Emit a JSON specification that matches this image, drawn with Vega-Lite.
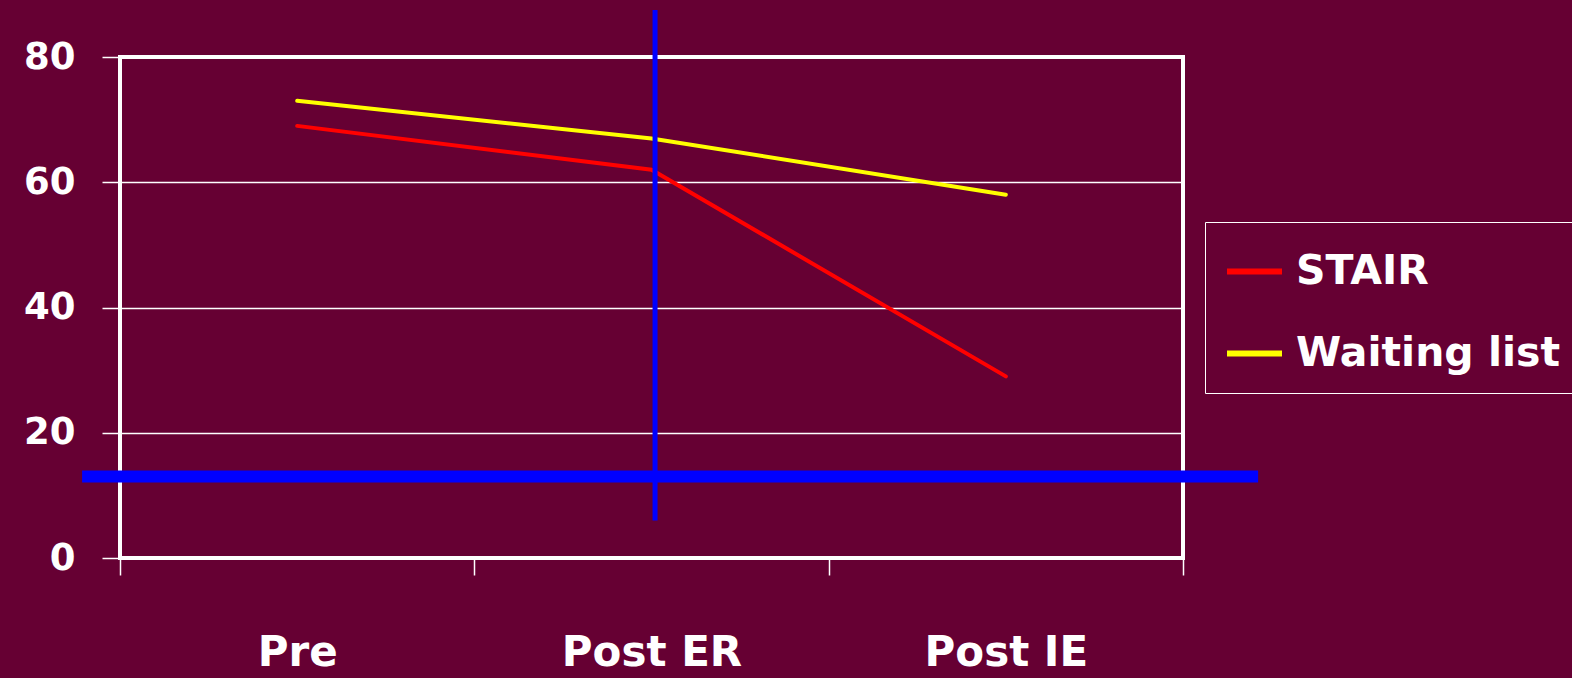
{
  "$schema": "https://vega.github.io/schema/vega-lite/v6.json",
  "width": 1063,
  "height": 501,
  "autosize": {"type": "none"},
  "padding": {"left": 120, "top": 57, "right": 389, "bottom": 120},
  "background": "#660033",
  "config": {
    "view": {"stroke": "#ffffff", "strokeWidth": 4},
    "font": "DejaVu Sans"
  },
  "layer": [
    {
      "data": {
        "values": [
          {"phase": "Pre", "group": "STAIR", "score": 69},
          {"phase": "Post ER", "group": "STAIR", "score": 62},
          {"phase": "Post IE", "group": "STAIR", "score": 29},
          {"phase": "Pre", "group": "Waiting list", "score": 73},
          {"phase": "Post ER", "group": "Waiting list", "score": 67},
          {"phase": "Post IE", "group": "Waiting list", "score": 58}
        ]
      },
      "mark": {"type": "line", "strokeWidth": 4, "strokeCap": "round"},
      "encoding": {
        "x": {
          "field": "phase",
          "type": "nominal",
          "sort": ["Pre", "Post ER", "Post IE"],
          "scale": {"type": "band", "paddingInner": 0, "paddingOuter": 0},
          "axis": {
            "title": null,
            "domain": false,
            "grid": false,
            "tickBand": "extent",
            "tickSize": 17,
            "tickWidth": 1.5,
            "tickColor": "#ffffff",
            "labelColor": "#ffffff",
            "labelFontSize": 42,
            "labelFontWeight": "bold",
            "labelLimit": 0,
            "labelPadding": 57,
            "labelAngle": 0
          }
        },
        "y": {
          "field": "score",
          "type": "quantitative",
          "title": null,
          "scale": {"domain": [0, 80], "nice": false},
          "axis": {
            "title": null,
            "values": [0, 20, 40, 60, 80],
            "domain": false,
            "grid": true,
            "gridColor": "#ffffff",
            "gridWidth": 1.5,
            "gridOpacity": 1,
            "tickSize": 18,
            "tickWidth": 1.5,
            "tickColor": "#ffffff",
            "labelColor": "#ffffff",
            "labelFontSize": 37,
            "labelFontWeight": "bold",
            "labelPadding": 27
          }
        },
        "color": {
          "field": "group",
          "type": "nominal",
          "scale": {"domain": ["STAIR", "Waiting list"], "range": ["#ff0000", "#ffff00"]},
          "legend": {
            "title": null,
            "orient": "none",
            "legendX": 1085,
            "legendY": 165,
            "symbolType": "stroke",
            "symbolSize": 3025,
            "symbolStrokeWidth": 6,
            "labelFontSize": 41,
            "labelFontWeight": "bold",
            "labelColor": "#ffffff",
            "labelLimit": 0,
            "labelOffset": 11,
            "padding": 19,
            "rowPadding": 31,
            "strokeColor": "#ffffff",
            "fillColor": "#660033"
          }
        }
      }
    },
    {
      "layer": [
        {
          "data": {"values": [{"at": 1.51, "low": 6, "high": 87.5}]},
          "mark": {"type": "rule", "color": "#0000ff", "strokeWidth": 5},
          "encoding": {
            "x": {
              "field": "at",
              "type": "quantitative",
              "scale": {"domain": [0, 3], "nice": false, "zero": false},
              "axis": null
            },
            "y": {"field": "low", "type": "quantitative", "title": null},
            "y2": {"field": "high"}
          }
        },
        {
          "data": {"values": [{"level": 13, "from": -0.107, "to": 3.212}]},
          "mark": {"type": "rule", "color": "#0000ff", "strokeWidth": 12},
          "encoding": {
            "x": {"field": "from", "type": "quantitative", "axis": null},
            "x2": {"field": "to"},
            "y": {"field": "level", "type": "quantitative", "title": null}
          }
        }
      ]
    }
  ],
  "resolve": {"scale": {"x": "independent"}, "axis": {"x": "independent"}}
}
